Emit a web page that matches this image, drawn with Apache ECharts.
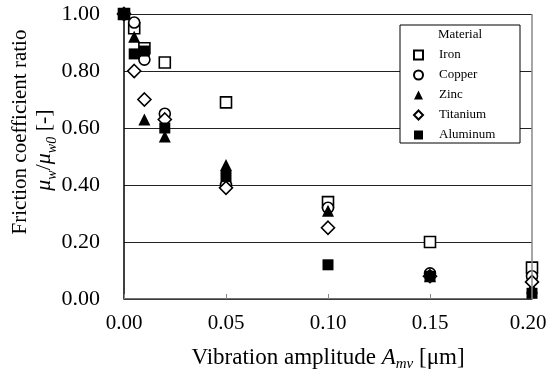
<!DOCTYPE html>
<html>
<head>
<meta charset="utf-8">
<script src="https://cdn.jsdelivr.net/npm/echarts@6/dist/echarts.min.js"></script>
<style>
  html, body { margin: 0; padding: 0; background: #fff; }
  #chart { width: 548px; height: 373px; }
</style>
</head>
<body>
<div id="chart"></div>
<script>
// vibration amplitude [um]
const amplitude = [0, 0.005, 0.01, 0.02, 0.05, 0.10, 0.15, 0.20];
// friction coefficient ratio per material
const iron = [1.00, 0.95, 0.88, 0.83, 0.69, 0.34, 0.20, 0.11];
const copper = [1.00, 0.97, 0.84, 0.65, 0.40, 0.32, 0.09, 0.08];
const zinc = [1.00, 0.92, 0.63, 0.57, 0.47, 0.31, 0.08, 0.04];
const titanium = [1.00, 0.80, 0.70, 0.63, 0.39, 0.25, 0.08, 0.06];
const aluminum = [1.00, 0.86, 0.87, 0.60, 0.43, 0.12, 0.08, 0.02];
const yTicks = [0, 0.2, 0.4, 0.6, 0.8, 1.0];
const xTicks = [0, 0.05, 0.10, 0.15, 0.20];

const FONT = '"Liberation Serif", "DejaVu Serif", serif';
const chart = echarts.init(document.getElementById('chart'));

const pair = (ys) => amplitude.map((x, i) => [x, ys[i]]);

const hollow = { color: '#fff', borderColor: '#000', borderWidth: 1.6, opacity: 1 };
const filled = { color: '#000', borderColor: '#000', borderWidth: 0, opacity: 1 };

const materials = [
    { name: 'Iron', data: iron, symbol: 'rect', size: 11, style: hollow },
    { name: 'Copper', data: copper, symbol: 'circle', size: 11, style: hollow },
    { name: 'Zinc', data: zinc, symbol: 'triangle', size: 12, style: filled },
    { name: 'Titanium', data: titanium, symbol: 'diamond', size: 13, style: hollow },
    { name: 'Aluminum', data: aluminum, symbol: 'rect', size: 11, style: filled }
];

const series = materials.map((m) => ({
    name: m.name,
    type: 'scatter',
    symbol: m.symbol,
    symbolSize: m.size,
    itemStyle: m.style,
    emphasis: { disabled: true },
    data: pair(m.data)
}));

const xMax = xTicks[xTicks.length - 1];

const option = {
    animation: false,
    backgroundColor: '#fff',
    textStyle: { fontFamily: FONT },
    grid: { left: 124, right: 16, top: 14, bottom: 74, outerBoundsMode: 'none', containLabel: false },
    xAxis: {
        type: 'value',
        min: xTicks[0],
        max: xMax,
        interval: 0.05,
        axisLine: { show: true, lineStyle: { color: '#444', width: 1.5 } },
        axisTick: { show: true, inside: true, length: 5, lineStyle: { color: '#888' } },
        splitLine: { show: false },
        axisLabel: {
            color: '#000', fontFamily: FONT, fontSize: 21, margin: 14,
            // last label nudged left so it stays inside the canvas
            formatter: (v) => (v >= xMax - 1e-9 ? '{r|' + v.toFixed(2) + '}' : v.toFixed(2)),
            rich: {
                r: { fontFamily: FONT, fontSize: 21, color: '#000', padding: [0, 8, 0, 0] }
            }
        },
        name: '{t|Vibration amplitude }{i|A}{s|mv}{t| [μm]}',
        nameLocation: 'middle',
        nameGap: 47,
        nameTextStyle: {
            rich: {
                t: { fontFamily: FONT, fontSize: 23, color: '#000', lineHeight: 26, verticalAlign: 'top' },
                i: { fontFamily: FONT, fontSize: 23, fontStyle: 'italic', color: '#000', lineHeight: 26, verticalAlign: 'top' },
                s: { fontFamily: FONT, fontSize: 15, fontStyle: 'italic', color: '#000', lineHeight: 11, verticalAlign: 'bottom' }
            }
        }
    },
    yAxis: {
        type: 'value',
        min: yTicks[0],
        max: yTicks[yTicks.length - 1],
        interval: 0.2,
        axisLine: { show: true, lineStyle: { color: '#000', width: 1.5 } },
        axisTick: { show: false },
        splitLine: { show: true, lineStyle: { color: '#222', width: 1.2 } },
        axisLabel: {
            color: '#000', fontFamily: FONT, fontSize: 22, margin: 24,
            formatter: (v) => v.toFixed(2)
        }
    },
    legend: {
        orient: 'vertical',
        left: 413,
        top: 48,
        padding: 0,
        itemGap: 6,
        itemWidth: 9,
        itemHeight: 9,
        z: 20,
        selectedMode: false,
        textStyle: { fontFamily: FONT, fontSize: 13, color: '#000', lineHeight: 14, padding: [0, 0, 0, 11] },
        data: materials.map((m) => m.name)
    },
    graphic: [
        {
            // right frame line
            type: 'line', z: 5,
            shape: { x1: 532, y1: 14, x2: 532, y2: 299 },
            style: { stroke: '#888', lineWidth: 1.5 }
        },
        {
            type: 'rect', z: 10,
            shape: { x: 400, y: 25, width: 120, height: 118 },
            style: { fill: '#fff', stroke: '#000', lineWidth: 1 }
        },
        {
            type: 'text', z: 11,
            x: 460, y: 35,
            style: {
                text: 'Material', fontFamily: FONT, fontSize: 13, fill: '#000',
                align: 'center', verticalAlign: 'middle'
            }
        },
        {
            type: 'text', z: 11,
            x: 20, y: 132, rotation: Math.PI / 2,
            style: {
                text: 'Friction coefficient ratio', fontFamily: FONT, fontSize: 21, fill: '#000',
                align: 'center', verticalAlign: 'middle'
            }
        },
        {
            type: 'text', z: 11,
            x: 46, y: 150, rotation: Math.PI / 2,
            style: {
                text: '{i|μ}{s|w}{t|/}{i|μ}{s|w0}{t| [-]}',
                align: 'center', verticalAlign: 'middle',
                rich: {
                    t: { fontFamily: FONT, fontSize: 22, fill: '#000', lineHeight: 26, verticalAlign: 'top' },
                    i: { fontFamily: FONT, fontSize: 22, fontStyle: 'italic', fill: '#000', lineHeight: 26, verticalAlign: 'top' },
                    s: { fontFamily: FONT, fontSize: 14, fontStyle: 'italic', fill: '#000', lineHeight: 10, verticalAlign: 'bottom' }
                }
            }
        }
    ],
    series: series
};

chart.setOption(option);
</script>
</body>
</html>
